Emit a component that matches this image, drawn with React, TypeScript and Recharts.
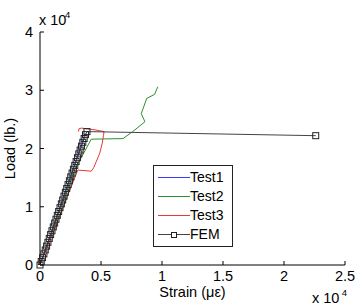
import { LineChart, Line, XAxis, YAxis, Legend } from 'recharts'

const xTicks = [0, 5000, 10000, 15000, 20000, 25000]
const yTicks = [0, 10000, 20000, 30000, 40000]
const seriesNames = ['Test1', 'Test2', 'Test3', 'FEM']

// strain in microstrain, load in lb
const test1Strain = [0, 1900, 3700]
const test1Load = [0, 11600, 22600]

const test2Strain = [0, 2900, 3400, 4200, 6800, 7600, 8600, 8300, 8750, 9400, 9650]
const test2Load = [0, 16700, 18500, 21600, 21700, 22900, 24600, 26000, 28600, 29300, 30600]

const test3Strain = [0, 3100, 4200, 4400, 4900, 5100, 5200, 5250, 4500, 3400, 3200, 3150]
const test3Load = [0, 16300, 16100, 16700, 19200, 20900, 22200, 22900, 23200, 23500, 23400, 22900]

const femStrain = [
  0, 100, 210, 320, 430, 540, 650, 760, 870, 980, 1090, 1200, 1310, 1420, 1530, 1640, 1750, 1860,
  1970, 2080, 2190, 2300, 2410, 2520, 2630, 2740, 2850, 2960, 3070, 3180, 3290, 3400, 3510, 3620,
  3730, 3850, 22600,
]
const femLoad = [
  0, 600, 1260, 1920, 2580, 3240, 3900, 4560, 5220, 5880, 6540, 7200, 7860, 8520, 9180, 9840, 10500,
  11160, 11820, 12480, 13140, 13800, 14460, 15120, 15780, 16440, 17100, 17760, 18420, 19080, 19740,
  20400, 21060, 21720, 22380, 22900, 22200,
]

const colors: Record<string, string> = { Test1: '#3a3aff', Test2: '#2a922a', Test3: '#e63a3a', FEM: '#444' }

function pts(xs: number[], ys: number[]) {
  return xs.map((x, i) => ({ x, y: ys[i] }))
}

const font = '"Liberation Sans", Arial, sans-serif'
const tickStyle = { fill: '#000', fontSize: 14.5, fontFamily: font }

function SquareDot(props: any) {
  const { cx, cy, index } = props
  return <rect key={`fem-${index}`} x={cx - 3} y={cy - 3} width={6} height={6} fill="none" stroke="#222" strokeWidth={1} />
}

function LegendBox() {
  return (
    <div style={{ border: '1px solid #222', background: '#fff', padding: '2px 0', width: 78, fontFamily: font, fontSize: 14 }}>
      {seriesNames.map(name => (
        <div key={name} style={{ display: 'flex', alignItems: 'center', height: 19 }}>
          <svg width={36} height={19} style={{ display: 'block' }}>
            <line x1={4} y1={9.5} x2={36} y2={9.5} stroke={colors[name]} strokeWidth={1} />
            {name === 'FEM' && <rect x={17.5} y={7.5} width={5} height={5} fill="#fff" stroke="#222" />}
          </svg>
          <span style={{ lineHeight: '19px' }}>{name}</span>
        </div>
      ))}
    </div>
  )
}

export default function App() {
  return (
    <div style={{ position: 'absolute', left: 0, top: 0, width: 364, height: 307, background: '#fff', fontFamily: font }}>
      <LineChart width={364} height={307} margin={{ top: 32, right: 19, bottom: 0, left: 0 }}>
        <XAxis
          type="number"
          dataKey="x"
          domain={[0, 25000]}
          ticks={xTicks}
          interval={0}
          height={42}
          tickSize={-4}
          tickMargin={10}
          tick={tickStyle}
          tickLine={{ stroke: '#000' }}
          axisLine={{ stroke: '#000' }}
          tickFormatter={(v: number) => String(v / 10000)}
          label={{ value: 'Strain (με)', position: 'insideBottom', offset: 10, fill: '#000', fontSize: 14.5, fontFamily: font }}
        />
        <XAxis
          xAxisId="top"
          orientation="top"
          type="number"
          dataKey="x"
          domain={[0, 25000]}
          ticks={xTicks}
          interval={0}
          height={0}
          tickSize={-4}
          tick={false}
          tickLine={{ stroke: '#000' }}
          axisLine={{ stroke: '#000' }}
        />
        <YAxis
          type="number"
          dataKey="y"
          domain={[0, 40000]}
          ticks={yTicks}
          interval={0}
          width={40}
          tickSize={-4}
          tickMargin={11}
          tick={tickStyle}
          tickLine={{ stroke: '#000' }}
          axisLine={{ stroke: '#000' }}
          tickFormatter={(v: number) => String(v / 10000)}
          label={{ value: 'Load (lb.)', angle: -90, position: 'insideLeft', offset: 10, fill: '#000', fontSize: 14.5, fontFamily: font, style: { textAnchor: 'middle' } }}
        />
        <YAxis
          yAxisId="right"
          orientation="right"
          type="number"
          domain={[0, 40000]}
          ticks={yTicks}
          interval={0}
          width={0}
          tickSize={-4}
          tick={false}
          tickLine={{ stroke: '#000' }}
          axisLine={{ stroke: '#000' }}
        />
        <Legend
          content={<LegendBox />}
          layout="vertical"
          align="center"
          verticalAlign="middle"
          wrapperStyle={{ left: 153, top: 165, width: 80 }}
        />
        <Line name="Test1" data={pts(test1Strain, test1Load)} dataKey="y" stroke={colors.Test1} strokeWidth={1} dot={false} isAnimationActive={false} />
        <Line name="Test2" data={pts(test2Strain, test2Load)} dataKey="y" stroke={colors.Test2} strokeWidth={1} dot={false} isAnimationActive={false} />
        <Line name="Test3" data={pts(test3Strain, test3Load)} dataKey="y" stroke={colors.Test3} strokeWidth={1} dot={false} isAnimationActive={false} />
        <Line name="FEM" data={pts(femStrain, femLoad)} dataKey="y" stroke={colors.FEM} strokeWidth={1} dot={SquareDot} isAnimationActive={false} />
      </LineChart>
      <div style={{ position: 'absolute', left: 39, top: 12.7, fontSize: 14.5, lineHeight: 1, whiteSpace: 'nowrap' }}>x 10</div>
      <div style={{ position: 'absolute', left: 65, top: 10.3, fontSize: 9.5, lineHeight: 1 }}>4</div>
      <div style={{ position: 'absolute', left: 312, top: 291, fontSize: 14.5, lineHeight: 1, whiteSpace: 'nowrap' }}>x 10</div>
      <div style={{ position: 'absolute', left: 341.7, top: 287.8, fontSize: 9.5, lineHeight: 1 }}>4</div>
    </div>
  )
}
